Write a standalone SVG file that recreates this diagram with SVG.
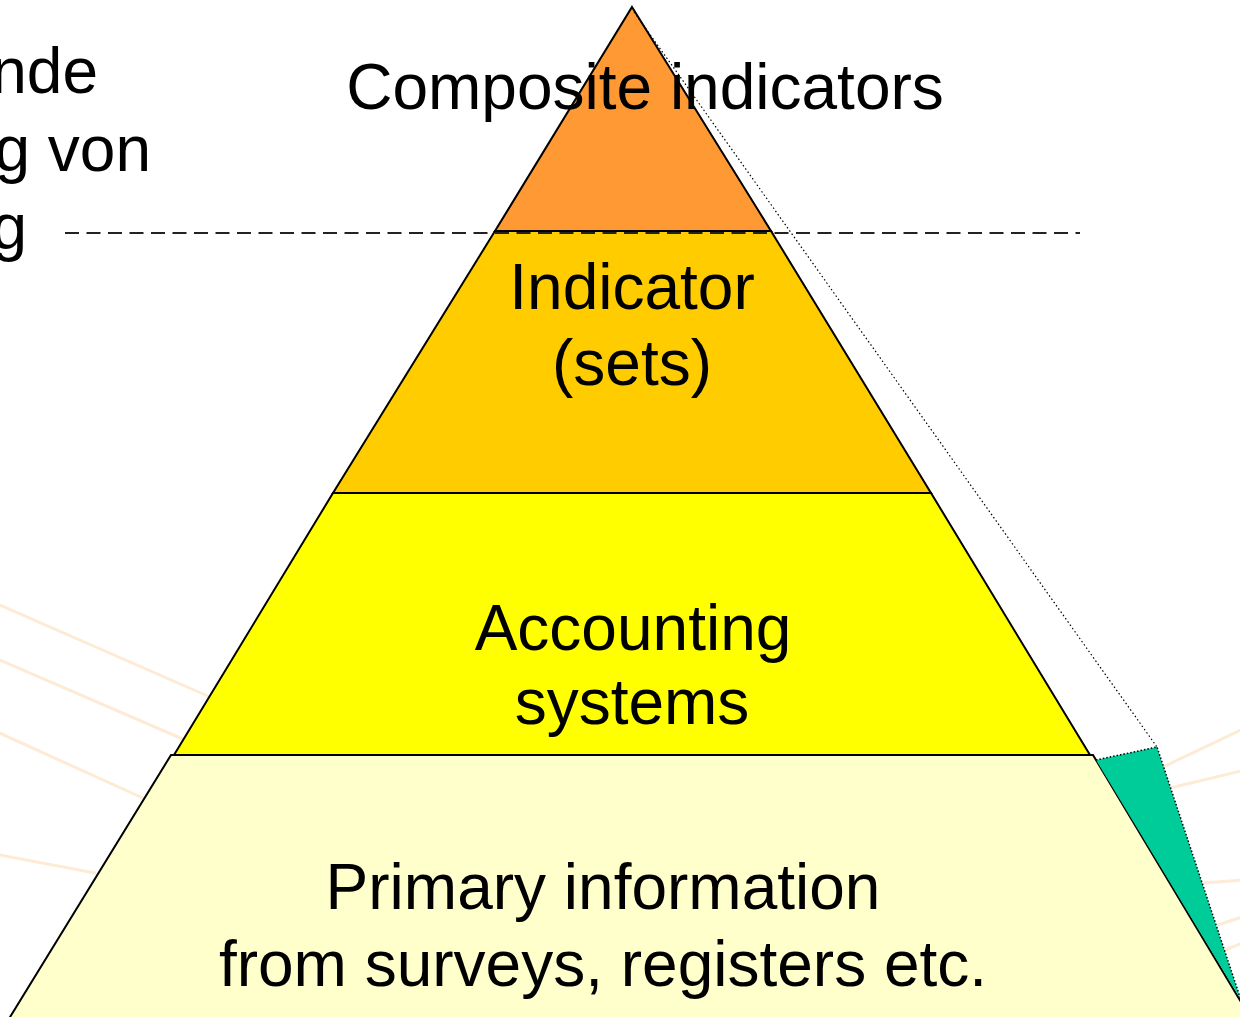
<svg xmlns="http://www.w3.org/2000/svg" width="1240" height="1017" viewBox="0 0 1240 1017">
  <style>
    .lbl{font-family:"Liberation Sans",Arial,sans-serif;font-size:64px;fill:#000;text-anchor:middle}
    .side{font-family:"Liberation Sans",Arial,sans-serif;font-size:64px;fill:#000;text-anchor:end}
    .layer{stroke:#000;stroke-width:2;stroke-linejoin:miter}
    .ray{stroke:#FDEBD5;stroke-width:3;fill:none;stroke-linecap:round}
  </style>
  <rect width="1240" height="1017" fill="#fff"/>
  <g id="background">
    <line class="ray" x1="-5" y1="603" x2="210" y2="697"/>
    <line class="ray" x1="-5" y1="658" x2="185" y2="740"/>
    <line class="ray" x1="-5" y1="731" x2="145" y2="799"/>
    <line class="ray" x1="-5" y1="854" x2="95" y2="873"/>
    <line class="ray" x1="1163" y1="767" x2="1245" y2="728"/>
    <line class="ray" x1="1170" y1="788" x2="1245" y2="770"/>
    <line class="ray" x1="1203" y1="883" x2="1245" y2="880"/>
    <line class="ray" x1="1218" y1="925" x2="1245" y2="916"/>
    <line class="ray" x1="1225" y1="950" x2="1245" y2="942"/>
  </g>
  <g id="side-text">
    <text class="side" x="98" y="93">nde</text>
    <text class="side" x="151" y="171">g von</text>
    <text class="side" x="27" y="249">g</text>
  </g>
  <g id="layer-primary">
    <polygon class="layer" fill="#FFFFCC" points="171,755 1093,755 1253,1022 7,1022"/>
    <text class="lbl" x="603" y="909">Primary information</text>
    <text class="lbl" x="603" y="986">from surveys, registers etc.</text>
  </g>
  <g id="layer-accounting">
    <polygon class="layer" fill="#FFFF00" points="333,493 931,493 1090,755 174,755"/>
    <text class="lbl" x="633" y="650">Accounting</text>
    <text class="lbl" x="632" y="724">systems</text>
  </g>
  <g id="layer-indicator">
    <polygon class="layer" fill="#FFCC00" points="495,231 771,231 931,493 333,493"/>
    <text class="lbl" x="632" y="309">Indicator</text>
    <text class="lbl" x="632" y="385">(sets)</text>
  </g>
  <g id="layer-composite">
    <polygon class="layer" fill="#FF9933" points="632,7 771,231 495,231"/>
  </g>
  <g id="wedge">
    <polygon fill="#00CC99" points="1096,760 1157,747 1241,1000"/>
    <polyline fill="none" stroke="#000" stroke-width="1.5" stroke-dasharray="1.5 2" points="1096,760 1157,747 1241,1000"/>
  </g>
  <g id="connectors">
    <line x1="634" y1="12" x2="1157" y2="747" stroke="#000" stroke-width="1.2" stroke-dasharray="1.5 2.5"/>
    <line x1="65" y1="233" x2="1080" y2="233" stroke="#222" stroke-width="2" stroke-dasharray="14 7.5"/>
  </g>
  <g id="composite-label">
    <text class="lbl" x="645" y="109">Composite indicators</text>
  </g>
</svg>
